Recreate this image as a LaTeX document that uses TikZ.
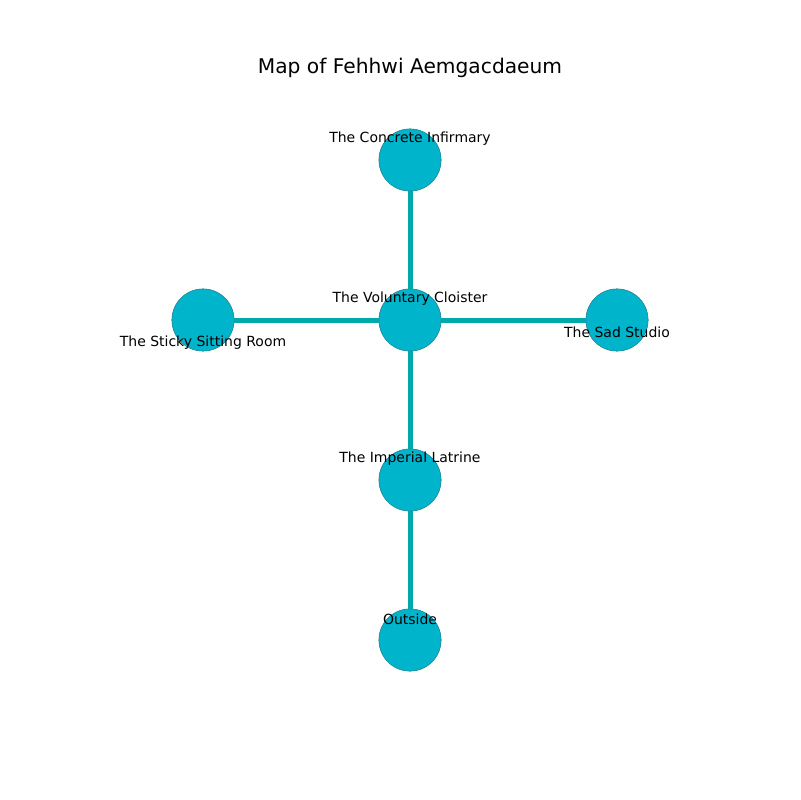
\documentclass[tikz,border=0pt]{standalone}
\usepackage{fontspec}
\setmainfont{DejaVu Sans}
\usetikzlibrary{positioning}
\definecolor{roomfill}{HTML}{00B4CC}
\definecolor{roomedge}{HTML}{2A8C9C}
\definecolor{passagecol}{HTML}{00AAAA}
\tikzset{
    room/.style={circle, fill=roomfill, draw=roomedge, line width=0.4pt, minimum size=0.62in, inner sep=0pt},
    passage/.style={draw=passagecol, line width=0.05in},
    roomlabel/.style={font=\fontsize{10.1}{12}\selectfont, inner sep=0pt},
    heading/.style={font=\fontsize{14.6}{17}\selectfont, inner sep=0pt}
}

\begin{document}
\begin{tikzpicture}[x=0.01in, y=-0.01in]
    \useasboundingbox (0,0) rectangle (800,800);
    \node[heading] (title) at (410,68) {Map of Fehhwi Aemgacdaeum};
    % rooms
    \node[room] (infirmary) at (410,160) {};
    \node[room] (sitting) at (203,320) {};
    \node[room] (cloister) at (410,320) {};
    \node[room] (studio) at (617,320) {};
    \node[room] (latrine) at (410,480) {};
    \node[room] (outside) at (410,640) {};
    % passages
    \draw[passage] (cloister.center) -- (infirmary.center);
    \draw[passage] (cloister.center) -- (sitting.center);
    \draw[passage] (cloister.center) -- (studio.center);
    \draw[passage] (cloister.center) -- (latrine.center);
    \draw[passage] (latrine.center) -- (outside.center);
    % redraw rooms on top of passages
    \foreach \r in {infirmary,sitting,cloister,studio,latrine,outside}{
        \node[room] at (\r) {};
    }
    % labels
    \node[roomlabel] (infirmarylab) at (410,139) {The Concrete Infirmary};
    \node[roomlabel] (sittinglab) at (203,343) {The Sticky Sitting Room};
    \node[roomlabel] (cloisterlab) at (410,299) {The Voluntary Cloister};
    \node[roomlabel] (studiolab) at (617,332) {The Sad Studio};
    \node[roomlabel] (latrinelab) at (410,459) {The Imperial Latrine};
    \node[roomlabel] (outsidelab) at (410,619) {Outside};
\end{tikzpicture}
\end{document}
